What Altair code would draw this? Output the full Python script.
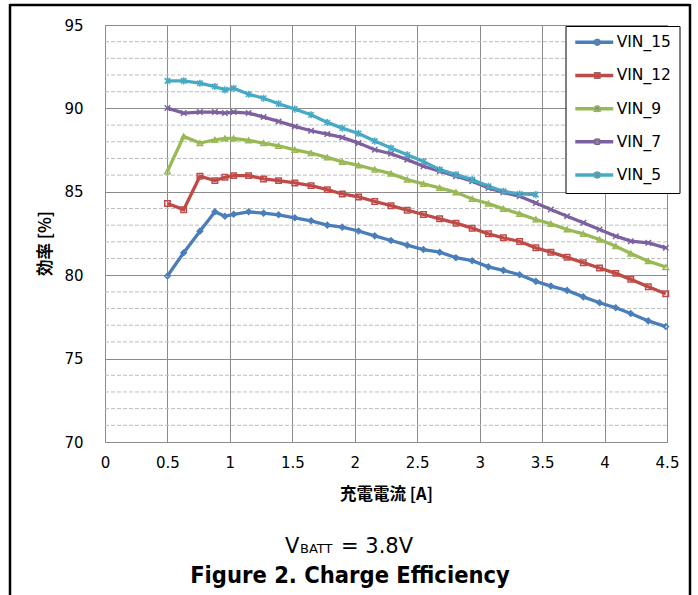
import altair as alt
import pandas as pd

# Charge current [A] at each measurement point
current = [0.5, 0.63, 0.76, 0.88, 0.96, 1.03, 1.15, 1.27, 1.39, 1.52, 1.65, 1.78,
           1.9, 2.03, 2.16, 2.29, 2.42, 2.55, 2.68, 2.81, 2.94, 3.07, 3.19, 3.32,
           3.45, 3.57, 3.7, 3.83, 3.96, 4.09, 4.21, 4.35, 4.49]

# Efficiency [%] per input voltage
vin_15 = [79.95, 81.35, 82.64, 83.8, 83.53, 83.65, 83.8, 83.72, 83.62, 83.44, 83.26, 83.0,
          82.88, 82.65, 82.36, 82.08, 81.8, 81.54, 81.38, 81.05, 80.87, 80.5, 80.29, 80.03,
          79.63, 79.35, 79.09, 78.7, 78.35, 78.05, 77.7, 77.26, 76.92]
vin_12 = [84.3, 83.93, 85.93, 85.67, 85.87, 85.97, 85.97, 85.77, 85.67, 85.53, 85.37, 85.13,
          84.87, 84.69, 84.42, 84.17, 83.9, 83.64, 83.38, 83.12, 82.82, 82.48, 82.24, 82.02,
          81.64, 81.38, 81.07, 80.75, 80.43, 80.11, 79.75, 79.31, 78.89]
vin_9 = [86.23, 88.32, 87.92, 88.12, 88.2, 88.2, 88.08, 87.92, 87.76, 87.52, 87.32, 87.06,
         86.79, 86.59, 86.33, 86.09, 85.73, 85.47, 85.23, 84.97, 84.57, 84.29, 83.98, 83.68,
         83.34, 83.08, 82.74, 82.48, 82.14, 81.74, 81.3, 80.84, 80.49]
vin_7 = [90.02, 89.72, 89.78, 89.78, 89.72, 89.78, 89.72, 89.48, 89.22, 88.92, 88.66, 88.46,
         88.26, 87.92, 87.52, 87.28, 86.93, 86.53, 86.23, 85.93, 85.63, 85.23, 84.97, 84.73,
         84.33, 83.94, 83.54, 83.14, 82.74, 82.34, 82.04, 81.94, 81.64]
vin_5 = [91.65, 91.65, 91.51, 91.31, 91.11, 91.21, 90.85, 90.61, 90.28, 89.96, 89.62, 89.16,
         88.82, 88.5, 88.04, 87.62, 87.22, 86.82, 86.33, 86.03, 85.73, 85.33, 85.03, 84.87,
         84.83]

names = ["VIN_15", "VIN_12", "VIN_9", "VIN_7", "VIN_5"]
colors = ["#4A7EBB", "#BE4B48", "#98B954", "#7D60A0", "#46AAC5"]
shapes = ["diamond", "square", "triangle-up",
          "M-1,-1L1,1M-1,1L1,-1",
          "M-1,-1L1,1M-1,1L1,-1M0,-1.3L0,1.3"]

x_ticks = [0, 0.5, 1, 1.5, 2, 2.5, 3, 3.5, 4, 4.5]
y_ticks = [70, 75, 80, 85, 90, 95]
y_minor = [71, 72, 73, 74, 76, 77, 78, 79, 81, 82, 83, 84, 86, 87, 88, 89, 91, 92, 93, 94]

rows = []
for name, vals in zip(names, [vin_15, vin_12, vin_9, vin_7, vin_5]):
    for i, v in enumerate(vals):
        rows.append({"series": name, "current": current[i], "eff": v})
df = pd.DataFrame(rows)

W, H = 562, 417
FONT = "DejaVu Sans"
CJK = "Noto Sans CJK JP"

x_enc = alt.X(
    "current:Q",
    scale=alt.Scale(domain=[0, 4.5], nice=False, zero=False),
    axis=alt.Axis(values=x_ticks, format="~g", title="充電電流 [A]",
                  labelPadding=13, labelFlush=False, titlePadding=16),
)
y_enc = alt.Y(
    "eff:Q",
    scale=alt.Scale(domain=[70, 95], nice=False, zero=False),
    axis=alt.Axis(values=y_ticks, format="d", title="効率 [%]",
                  labelPadding=22, titleX=-60, titleY=218, titleAngle=270,
                  titleAlign="center", titleBaseline="middle"),
)

color_scale = alt.Scale(domain=names, range=colors)

minor = alt.Chart(pd.DataFrame({"v": y_minor})).mark_rule(
    color="#BDBDBD", strokeWidth=1, strokeDash=[4, 2]
).encode(y=alt.Y("v:Q", scale=alt.Scale(domain=[70, 95], nice=False, zero=False)))

lines = alt.Chart(df).mark_line(strokeWidth=3.3).encode(
    x=x_enc, y=y_enc,
    color=alt.Color(
        "series:N", scale=color_scale, sort=names,
        legend=alt.Legend(
            title=None, orient="none", legendX=460.5, legendY=1,
            symbolType="M-4,0L4,0", symbolSize=90, symbolStrokeWidth=3.5,
            symbolOffset=12.5, labelOffset=14.7, labelFont=FONT, labelFontSize=15.5,
            labelColor="black", rowPadding=16.2, padding=8.5,
            strokeColor="black", fillColor="white", zindex=0,
        ),
    ),
)

point_legend = alt.Legend(
    title=None, orient="none", legendX=460.5, legendY=1,
    symbolSize=30, symbolStrokeWidth=1.5, symbolOffset=15.5,
    labelExpr="''", labelFont=FONT, labelFontSize=15.5, rowPadding=16.2,
    padding=8.5, zindex=1,
)

points = alt.Chart(df).mark_point(filled=False, strokeWidth=1.5, size=30, opacity=1).encode(
    x=x_enc, y=y_enc,
    color=alt.Color("series:N", scale=color_scale, sort=names, legend=point_legend),
    shape=alt.Shape("series:N", scale=alt.Scale(domain=names, range=shapes), sort=names,
                    legend=point_legend),
)

one = pd.DataFrame({"t": [""]})

def label(text, x, y, size, weight="normal", font=FONT, align="left"):
    return alt.Chart(pd.DataFrame({"t": [text]})).mark_text(
        font=font, fontSize=size, fontWeight=weight, align=align,
        baseline="alphabetic", color="black",
    ).encode(text="t:N", x=alt.value(x), y=alt.value(y))

caption = (
    label("V", 180, 528, 21)
    + label("BATT", 195, 528, 13)
    + label("= 3.8V", 236, 528, 21)
    + label("Figure 2. Charge Efficiency", 245, 558, 23.5, weight="bold",
            font="DejaVu Sans Condensed", align="center")
)

# outer black frame around the figure
frame = (
    alt.Chart(one).mark_rule(color="black", strokeWidth=2.5).encode(
        x=alt.value(-95), x2=alt.value(585), y=alt.value(-20))
    + alt.Chart(one).mark_rule(color="black", strokeWidth=2.5).encode(
        x=alt.value(-95), y=alt.value(-21), y2=alt.value(575))
    + alt.Chart(one).mark_rule(color="black", strokeWidth=2.5).encode(
        x=alt.value(585), y=alt.value(-21), y2=alt.value(575))
)

chart = alt.layer(minor, lines, points, caption, frame).resolve_scale(
    color="independent"
).properties(
    width=W, height=H,
    background="white",
    autosize=alt.AutoSizeParams(type="none"),
    padding={"left": 105, "top": 25, "right": 31, "bottom": 153},
).configure_view(
    stroke="#8C8C8C", strokeWidth=1
).configure_axis(
    grid=True, gridColor="#8C8C8C", gridWidth=1, domain=False, ticks=False,
    labelFont=FONT, labelFontSize=15, labelColor="black",
    titleFont=CJK, titleFontSize=16.5, titleFontWeight="bold", titleColor="black",
)

chart.save("out.html", embed_options={"renderer": "svg", "actions": False})
